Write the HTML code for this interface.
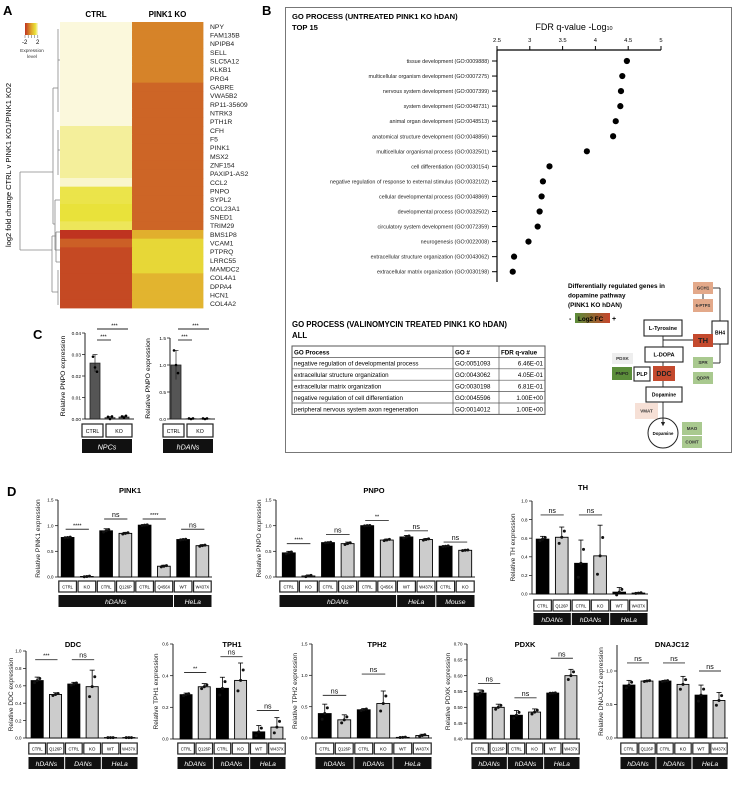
<!DOCTYPE html>
<html><head><meta charset="utf-8">
<style>
html,body{margin:0;padding:0;background:#fff;}
svg{display:block;font-family:"Liberation Sans",Arial,sans-serif;}
</style></head>
<body>
<svg id="fig" width="739" height="789" viewBox="0 0 739 789" xmlns="http://www.w3.org/2000/svg">
<rect x="0" y="0" width="739" height="789" fill="#fff"/>
<text x="3" y="15" font-size="13" font-weight="bold">A</text>
<text x="262" y="15" font-size="13" font-weight="bold">B</text>
<text x="33" y="339" font-size="13" font-weight="bold">C</text>
<text x="7" y="496" font-size="13" font-weight="bold">D</text>
<defs>
<linearGradient id="hmleg" x1="0" x2="1" y1="0" y2="0"><stop offset="0" stop-color="#bf3320"/><stop offset="0.5" stop-color="#e0a92c"/><stop offset="0.8" stop-color="#e9e23a"/><stop offset="1" stop-color="#fbf8dc"/></linearGradient>
<linearGradient id="fcleg" x1="0" x2="1" y1="0" y2="0"><stop offset="0" stop-color="#5b8d3a"/><stop offset="1" stop-color="#c6452b"/></linearGradient>
<marker id="arr" markerWidth="5" markerHeight="5" refX="2.5" refY="2.5" orient="auto"><path d="M0,0 L5,2.5 L0,5z" fill="#222"/></marker>
</defs>
</svg>
<script>
const NS='http://www.w3.org/2000/svg';
const svg=document.getElementById('fig');
function mk(tag,attrs,parent){const e=document.createElementNS(NS,tag);for(const k in attrs)e.setAttribute(k,attrs[k]);(parent||svg).appendChild(e);return e;}
function txt(x,y,s,attrs,parent){const e=mk('text',Object.assign({x:x,y:y},attrs||{}),parent);e.textContent=s;return e;}

/* ---------------- Panel A heatmap ---------------- */
const hmGenes=['NPY','FAM135B','NPIPB4','SELL','SLC5A12','KLKB1','PRG4','GABRE','VWA5B2','RP11-35609','NTRK3','PTH1R','CFH','F5','PINK1','MSX2','ZNF154','PAXIP1-AS2','CCL2','PNPO','SYPL2','COL23A1','SNED1','TRIM29','BMS1P8','VCAM1','PTPRQ','LRRC55','MAMDC2','COL4A1','DPPA4','HCN1','COL4A2'];
const hmCtrl=[2,2,2,2,2,2,2,2,2,2,2,2,1.6,1.6,1.6,1.6,1.6,1.6,1.9,1.1,1.1,1.0,1.0,1.2,-2,-1.2,-1.6,-1.6,-1.6,-1.6,-1.6,-1.6,-1.6];
const hmKo=[-0.6,-0.6,-0.6,-0.6,-0.6,-0.6,-0.6,-1.1,-1.1,-1.1,-1.1,-1.1,-1.1,-1.1,-1.1,-1.1,-1.1,-1.1,-1.1,-1.1,-1.1,-1.1,-1.1,-1.1,0.1,0.8,0.8,0.8,0.8,0.2,0.2,0.2,0.2];
const hmColumns=['CTRL','PINK1 KO'];
const stops=[[-2,[191,51,32]],[-1,[207,106,39]],[0,[224,169,44]],[1,[233,226,58]],[2,[251,248,220]]];
function hmColor(v){v=Math.max(-2,Math.min(2,v));for(let i=0;i<stops.length-1;i++){const a=stops[i],b=stops[i+1];if(v<=b[0]){const t=(v-a[0])/(b[0]-a[0]);const c=a[1].map((c0,k)=>Math.round(c0+(b[1][k]-c0)*t));return 'rgb('+c.join(',')+')';}}return 'rgb(251,248,220)';}
const hmTop=22,hmBot=308,hmX=[60,132,203];
const rowH=(hmBot-hmTop)/hmGenes.length;
hmColumns.forEach((c,j)=>{const t=txt((hmX[j]+hmX[j+1])/2,17,c,{'font-size':8,'font-weight':'bold','text-anchor':'middle'});

});
hmGenes.forEach((g,i)=>{
  [hmCtrl[i],hmKo[i]].forEach((v,j)=>{
    const r=mk('rect',{x:hmX[j],y:hmTop+i*rowH,width:hmX[j+1]-hmX[j]+0.4,height:rowH+0.4,fill:hmColor(v)});
    
    
  });
  const t=txt(210,hmTop+(i+0.5)*rowH+2.5,g,{'font-size':6.8,fill:'#222'});
  
  
});
// legend
const lg=mk('rect',{x:25,y:23,width:13,height:12,fill:'url(#hmleg)'});


for(let i=0;i<5;i++)mk('line',{x1:25+i*3.2,x2:25+i*3.2,y1:35,y2:38,stroke:'#555','stroke-width':0.5});
txt(22,44,'-2',{'font-size':6});txt(36,44,'2',{'font-size':6});
txt(32,52,'Expression',{'font-size':4.8,'text-anchor':'middle',fill:'#333'});
txt(32,58,'level',{'font-size':4.8,'text-anchor':'middle',fill:'#333'});
const yl=txt(0,0,'log2 fold change CTRL v PINK1 KO1/PINK1 KO2',{'font-size':7.5,'text-anchor':'middle',transform:'translate(11,165) rotate(-90)'});


// dendrogram
const dendro=[[20,172,20,250],[20,172,53,172],[20,250,52,250],[53,88,53,224],[53,88,58,88],[53,224,55,224],[55,200,55,250],[52,236,52,292],[52,236,56,236],[52,292,58,292],[56,232,56,262],[58,270,58,305],[58,29,58,112],[58,60,60,60],[58,130,58,175],[58,150,60,150],[55,200,60,200],[55,250,60,250],[56,232,60,232],[56,262,60,262]];
dendro.forEach(d=>{const l=mk('line',{x1:d[0],y1:d[1],x2:d[2],y2:d[3],stroke:'#888','stroke-width':0.8});});

/* ---------------- Panel B ---------------- */
const boxB=mk('rect',{x:285.5,y:7.5,width:446,height:445,fill:'none',stroke:'#777','stroke-width':1});


txt(292,19,'GO PROCESS (UNTREATED PINK1 KO hDAN)',{'font-size':7.6,'font-weight':'bold'});
txt(292,30,'TOP 15',{'font-size':7.6,'font-weight':'bold'});
const goTerms=['tissue development (GO:0009888)','multicellular organism development (GO:0007275)','nervous system development (GO:0007399)','system development (GO:0048731)','animal organ development (GO:0048513)','anatomical structure development (GO:0048856)','multicellular organismal process (GO:0032501)','cell differentiation (GO:0030154)','negative regulation of response to external stimulus (GO:0032102)','cellular developmental process (GO:0048869)','developmental process (GO:0032502)','circulatory system development (GO:0072359)','neurogenesis (GO:0022008)','extracellular structure organization (GO:0043062)','extracellular matrix organization (GO:0030198)'];
const goValues=[4.48,4.41,4.39,4.38,4.31,4.27,3.87,3.30,3.20,3.18,3.15,3.12,2.98,2.76,2.74];
const goTicks=[2.5,3,3.5,4,4.5,5];
const gxMin=2.5,gxMax=5,gx0=497,gx1=661;
const gx=v=>gx0+(v-gxMin)/(gxMax-gxMin)*(gx1-gx0);
const gy=i=>61+i*15.05;
const at=txt(574,30,'FDR q-value -Log',{'font-size':9,'text-anchor':'middle'});


const sub=mk('tspan',{'font-size':5.5},at);sub.textContent='10';
mk('line',{x1:gx0,x2:gx1,y1:50,y2:50,stroke:'#000','stroke-width':1.2});
mk('line',{x1:gx0,x2:gx0,y1:50,y2:282,stroke:'#000','stroke-width':1.2});
goTicks.forEach(t=>{mk('line',{x1:gx(t),x2:gx(t),y1:46,y2:50,stroke:'#000','stroke-width':1});
 const e=txt(gx(t),42,String(t),{'font-size':5.8,'text-anchor':'middle'});
 
 });
goTerms.forEach((g,i)=>{
 mk('line',{x1:gx0-5,x2:gx0,y1:gy(i),y2:gy(i),stroke:'#000','stroke-width':1});
 const e=txt(gx0-8,gy(i)+2,g,{'font-size':5.4,'text-anchor':'end',fill:'#222'});
 
 
 const c=mk('circle',{cx:gx(goValues[i]),cy:gy(i),r:3.1,fill:'#000'});
 
 
});
// table
txt(292,327,'GO PROCESS (VALINOMYCIN TREATED PINK1 KO hDAN)',{'font-size':7.8,'font-weight':'bold'});
txt(292,338,'ALL',{'font-size':7.8,'font-weight':'bold'});
const tblRows=[['GO Process','GO #','FDR q-value'],['negative regulation of developmental process','GO:0051093','6.46E-01'],['extracellular structure organization','GO:0043062','4.05E-01'],['extracellular matrix organization','GO:0030198','6.81E-01'],['negative regulation of cell differentiation','GO:0045596','1.00E+00'],['peripheral nervous system axon regeneration','GO:0014012','1.00E+00']];
const tg=mk('g',{});


const tx=[292,453,499,545],ty0=346,th=11.4;
mk('rect',{x:292,y:ty0,width:253,height:th*6,fill:'none',stroke:'#555','stroke-width':1},tg);
for(let r=1;r<6;r++)mk('line',{x1:292,x2:545,y1:ty0+r*th,y2:ty0+r*th,stroke:'#555','stroke-width':0.7},tg);
[453,499].forEach(x=>mk('line',{x1:x,x2:x,y1:ty0,y2:ty0+6*th,stroke:'#555','stroke-width':0.7},tg));
tblRows.forEach((row,r)=>{row.forEach((c,k)=>{
 const a={'font-size':6.2};if(r===0)a['font-weight']='bold';
 if(k===2&&r>0){a['text-anchor']='end';txt(543,ty0+r*th+8.3,c,a,tg);}else txt(tx[k]+2,ty0+r*th+8.3,c,a,tg);});});
// pathway
const pw=mk('g',{});


txt(568,288,'Differentially regulated genes in',{'font-size':6.4,'font-weight':'bold'},pw);
txt(568,297.5,'dopamine pathway',{'font-size':6.4,'font-weight':'bold'},pw);
txt(568,307,'(PINK1 KO hDAN)',{'font-size':6.4,'font-weight':'bold'},pw);
txt(569,321,'-',{'font-size':7,'font-weight':'bold'},pw);
mk('rect',{x:575,y:313,width:35,height:10,fill:'url(#fcleg)'},pw);
txt(578,321,'Log2 FC',{'font-size':6.3,'font-weight':'bold'},pw);
txt(612,321,'+',{'font-size':7,'font-weight':'bold'},pw);
const lines=[[663,336,663,387],[663,340,693,340],[703,294,703,299],[713,288,720,288],[720,288,720,321],[720,344,720,363],[720,363,713,363]];
lines.forEach(l=>mk('line',{x1:l[0],y1:l[1],x2:l[2],y2:l[3],stroke:'#222','stroke-width':0.9},pw));
mk('line',{x1:663,y1:402,x2:663,y2:424,stroke:'#222','stroke-width':0.9,'marker-end':'url(#arr)'},pw);
const nodes=[['GCH1',693,282,20,12,'#e3a98a','none',4.5,'#333'],['6-PTPS',693,299,20,13,'#e3a98a','none',4.2,'#333'],['BH4',712,321,16,23,'#fff','#222',5,'#000'],['L-Tyrosine',644,320,38,16,'#fff','#222',5.6,'#000'],['TH',693,334,20,13,'#c44a2e','none',7.5,'#222'],['L-DOPA',645,347,38,15,'#fff','#222',5.6,'#000'],['PDXK',612,353,21,11,'#eee','none',4.6,'#333'],['PNPO',612,367,20,13,'#5b8d3a','none',4.6,'#222'],['PLP',634,367,16,14,'#fff','#222',5.6,'#000'],['DDC',653,366,22,15,'#c44a2e','none',7,'#222'],['SPR',693,357,20,11,'#a9c98f','none',4.5,'#333'],['QDPR',693,372,20,12,'#a9c98f','none',4.5,'#333'],['Dopamine',646,387,36,15,'#fff','#222',5,'#000'],['VMAT',635,403,23,16,'#f6e0d6','none',4.5,'#333'],['MAO',682,422,20,13,'#a9c98f','none',4.5,'#333'],['COMT',682,436,20,12,'#a9c98f','none',4.5,'#333']];
nodes.forEach(n=>{mk('rect',{x:n[1],y:n[2],width:n[3],height:n[4],fill:n[5],stroke:n[6],'stroke-width':1.1},pw);
 txt(n[1]+n[3]/2,n[2]+n[4]/2+n[7]*0.36,n[0],{'font-size':n[7],'font-weight':'bold','text-anchor':'middle',fill:n[8]},pw);});
mk('circle',{cx:663,cy:433,r:15,fill:'none',stroke:'#222','stroke-width':1},pw);
txt(663,435,'Dopamine',{'font-size':4.3,'font-weight':'bold','text-anchor':'middle'},pw);

/* ---------------- Panel C ---------------- */
const cNpcMeans=[0.026,0.0006,0.0009];
const cNpcSd=[0.004,0.0005,0.0005];
const cNpcPts=[[0.029,0.024,0.022],[0.001,0.0,0.0012],[0.0012,0.0006,0.0015]];
const cNpcTicks=[0,0.01,0.02,0.03,0.04];
const cDanMeans=[1.0,0.005,0.005];
const cDanSd=[0.27,0.005,0.005];
const cDanPts=[[1.27,1.0,0.85],[0.01,0,0.01],[0.01,0,0.01]];
const cDanTicks=[0,0.5,1.0,1.5];
function drawC(name,ax,xs,y0,y1,max,means,sd,pts,ticks,fmt,ylabel,grp,sigY){
 const g=mk('g',{});
 
 
 const y=v=>y0-(v/max)*(y0-y1);
 mk('line',{x1:ax,x2:ax,y1:y1,y2:y0,stroke:'#222','stroke-width':1},g);
 mk('line',{x1:ax,x2:xs[2]+10,y1:y0,y2:y0,stroke:'#222','stroke-width':1},g);
 ticks.forEach(t=>{mk('line',{x1:ax-3,x2:ax,y1:y(t),y2:y(t),stroke:'#222','stroke-width':0.8},g);txt(ax-4,y(t)+1.8,fmt(t),{'font-size':4.8,'text-anchor':'end'},g);});
 xs.forEach((cx,i)=>{
  const b=mk('rect',{x:cx-5,y:y(means[i]),width:10,height:y0-y(means[i]),fill:'#555',stroke:'#222','stroke-width':0.8},g);
  
  
  mk('line',{x1:cx,x2:cx,y1:y(means[i]-sd[i]),y2:y(means[i]+sd[i]),stroke:'#222','stroke-width':0.7},g);
  mk('line',{x1:cx-2.5,x2:cx+2.5,y1:y(means[i]+sd[i]),y2:y(means[i]+sd[i]),stroke:'#222','stroke-width':0.7},g);
  pts[i].forEach((p,k)=>{const d=mk('circle',{cx:cx-2+k*2,cy:y(p),r:1.3,fill:'#000'},g);});
 });
 const yt=txt(0,0,ylabel,{'font-size':6.8,'text-anchor':'middle',transform:'translate('+(ax-20)+','+(y1+y0)/2+') rotate(-90)'},g);
 
 
 mk('rect',{x:xs[0]-13,y:424,width:21,height:13,fill:'#fff',stroke:'#222','stroke-width':1.2},g);
 txt(xs[0]-2.5,433,'CTRL',{'font-size':5.2,'text-anchor':'middle'},g);
 mk('rect',{x:xs[0]+11,y:424,width:26,height:13,fill:'#fff',stroke:'#222','stroke-width':1.2},g);
 txt(xs[0]+24,433,'KO',{'font-size':5.2,'text-anchor':'middle'},g);
 mk('rect',{x:xs[0]-13,y:439,width:50,height:14,fill:'#111'},g);
 txt(xs[0]+12,449.5,grp,{'font-size':7.2,'font-style':'italic','text-anchor':'middle',fill:'#fff'},g);
 mk('line',{x1:xs[0]+2,x2:xs[1]+1,y1:sigY[0],y2:sigY[0],stroke:'#222','stroke-width':0.9},g);
 txt((xs[0]+xs[1])/2+1,sigY[0]-1.5,'***',{'font-size':5.5,'text-anchor':'middle'},g);
 mk('line',{x1:xs[0]+2,x2:xs[2]+4,y1:sigY[1],y2:sigY[1],stroke:'#222','stroke-width':0.9},g);
 txt((xs[0]+xs[2])/2+5,sigY[1]-1.5,'***',{'font-size':5.5,'text-anchor':'middle'},g);
}
drawC('pnpo-npcs-chart',85,[95,110,124],419,333,0.04,cNpcMeans,cNpcSd,cNpcPts,cNpcTicks,t=>t.toFixed(2),'Relative PNPO expression','NPCs',[340,329]);
drawC('pnpo-hdans-chart',170,[176,191,205],419,338,1.5,cDanMeans,cDanSd,cDanPts,cDanTicks,t=>t.toFixed(1),'Relative PNPO expression','hDANs',[340,329]);

/* ---------------- Panel D bar charts ---------------- */
const pink1Means=[0.77,0.01,0.90,0.85,1.01,0.21,0.73,0.61];
const pink1Sd=[0.01,0.01,0.04,0.02,0.01,0.02,0.01,0.02];
const pink1Labels=['CTRL','KO','CTRL','Q126P','CTRL','Q456X','WT','W437X'];
const pink1Ticks=[0,0.5,1.0,1.5];
const pnpoMeans=[0.47,0.02,0.67,0.65,1.0,0.72,0.78,0.73,0.60,0.52];
const pnpoSd=[0.03,0.02,0.01,0.03,0.005,0.02,0.03,0.02,0.01,0.01];
const pnpoLabels=['CTRL','KO','CTRL','Q126P','CTRL','Q456X','WT','W437X','CTRL','KO'];
const pnpoTicks=[0,0.5,1.0,1.5];
const thMeans=[0.59,0.61,0.33,0.41,0.02,0.01];
const thSd=[0.03,0.11,0.25,0.33,0.05,0.005];
const thTicks=[0,0.2,0.4,0.6,0.8,1.0];
const ddcMeans=[0.66,0.50,0.62,0.59,0.005,0.005];
const ddcSd=[0.04,0.02,0.02,0.19,0,0];
const ddcTicks=[0,0.2,0.4,0.6,0.8,1.0];
const tph1Means=[0.28,0.33,0.32,0.37,0.045,0.075];
const tph1Sd=[0.01,0.02,0.07,0.11,0.04,0.06];
const tph1Ticks=[0,0.2,0.4,0.6];
const tph2Means=[0.39,0.29,0.45,0.55,0.01,0.04];
const tph2Sd=[0.15,0.08,0.02,0.20,0.005,0.02];
const tph2Ticks=[0,0.5,1.0,1.5];
const pdxkMeans=[0.545,0.50,0.475,0.485,0.545,0.60];
const pdxkSd=[0.01,0.01,0.015,0.01,0.001,0.02];
const pdxkTicks=[0.4,0.45,0.5,0.55,0.6,0.65,0.7];
const dnajMeans=[0.79,0.85,0.85,0.80,0.64,0.56];
const dnajSd=[0.07,0.01,0.01,0.12,0.15,0.12];
const dnajTicks=[0,0.5,1.0];
const stdLabels=['CTRL','Q126P','CTRL','KO','WT','W437X'];
function drawBars(c,means,sd,labels,ticks,groups,sigs){
 const g=mk('g',{});
 
 
 const y=v=>c.y0-(v-c.min)/(c.max-c.min)*(c.y0-c.y1);
 const slot=(c.x1-c.x0)/means.length;
 const cx=i=>c.x0+slot*(i+0.5);
 const tt=txt(c.tx,c.ty,c.title,{'font-size':7.5,'font-weight':'bold','text-anchor':'middle'},g);
 
 
 const top=c.axTop!==undefined?c.axTop:c.y1;
 mk('line',{x1:c.ax,x2:c.ax,y1:top,y2:c.y0,stroke:'#222','stroke-width':1},g);
 mk('line',{x1:c.ax,x2:c.x1,y1:c.y0,y2:c.y0,stroke:'#222','stroke-width':1},g);
 ticks.forEach(t=>{mk('line',{x1:c.ax-3,x2:c.ax,y1:y(t),y2:y(t),stroke:'#222','stroke-width':0.8},g);
  const e=txt(c.ax-4.5,y(t)+1.7,c.fmt(t),{'font-size':4.5,'text-anchor':'end'},g);
  
  });
 const yt=txt(0,0,c.ylabel,{'font-size':6.6,'text-anchor':'middle',transform:'translate('+c.ylx+','+(top+c.y0)/2+') rotate(-90)',fill:'#222'},g);
 
 
 const bw=slot*0.66;
 means.forEach((m,i)=>{
  const b=mk('rect',{x:cx(i)-bw/2,y:y(m),width:bw,height:Math.max(0.5,c.y0-y(m)),fill:i%2?'#ccc':'#000',stroke:'#000','stroke-width':0.9},g);
  
  
  const e1=y(m+sd[i]);
  mk('line',{x1:cx(i),x2:cx(i),y1:y(m),y2:e1,stroke:'#000','stroke-width':0.8},g);
  mk('line',{x1:cx(i)-2.5,x2:cx(i)+2.5,y1:e1,y2:e1,stroke:'#000','stroke-width':0.8},g);
  [-1,0,1].forEach(k=>{const d=mk('circle',{cx:cx(i)+k*2.6,cy:y(m+k*sd[i]*0.6),r:1.5,fill:'#111'},g);
   
   });
  const lb=mk('rect',{x:cx(i)-slot/2+0.8,y:c.ly,width:slot-1.6,height:11,fill:'#fff',stroke:'#222','stroke-width':1.2},g);
  
  
  txt(cx(i),c.ly+7.5,labels[i],{'font-size':labels[i].length>3?4.1:4.6,'text-anchor':'middle'},g);
 });
 let s=0;
 groups.forEach(gr=>{
  const gx1=c.x0+slot*s+0.5,gw=slot*gr[1]-1;
  const r=mk('rect',{x:gx1,y:c.gy,width:gw,height:12,fill:'#111'},g);
  
  
  txt(gx1+gw/2,c.gy+9,gr[0],{'font-size':6.8,'font-style':'italic','text-anchor':'middle',fill:'#fff'},g);
  s+=gr[1];
 });
 sigs.forEach(sg=>{
  const yy=y(sg[2]);
  mk('line',{x1:cx(sg[0])-2,x2:cx(sg[1])+2,y1:yy,y2:yy,stroke:'#333','stroke-width':0.9},g);
  const e=txt((cx(sg[0])+cx(sg[1]))/2,yy-2,sg[3],{'font-size':sg[3]==='ns'?7:5.5,'text-anchor':'middle'},g);
  
  
 });
}
const f1=t=>t.toFixed(1),f2=t=>t.toFixed(2);
drawBars({name:'pink1-chart',title:'PINK1',tx:130,ty:493,ax:58,x0:58,x1:212,y0:577,y1:500,min:0,max:1.5,fmt:f1,ylabel:'Relative PINK1 expression',ylx:40,ly:581,gy:595},pink1Means,pink1Sd,pink1Labels,pink1Ticks,[['hDANs',6],['HeLa',2]],[[0,1,0.93,'****'],[2,3,1.13,'ns'],[4,5,1.13,'****'],[6,7,0.93,'ns']]);
drawBars({name:'pnpo-chart',title:'PNPO',tx:374,ty:493,ax:276,x0:279,x1:475,y0:577,y1:500,min:0,max:1.5,fmt:f1,ylabel:'Relative PNPO expression',ylx:261,ly:581,gy:595},pnpoMeans,pnpoSd,pnpoLabels,pnpoTicks,[['hDANs',6],['HeLa',2],['Mouse',2]],[[0,1,0.65,'****'],[2,3,0.83,'ns'],[4,5,1.1,'**'],[6,7,0.9,'ns'],[8,9,0.68,'ns']]);
drawBars({name:'th-chart',title:'TH',tx:583,ty:490,ax:532,x0:533,x1:648,y0:594,y1:501,min:0,max:1.0,fmt:f1,ylabel:'Relative TH expression',ylx:515,ly:600,gy:613},thMeans,thSd,stdLabels,thTicks,[['hDANs',2],['hDANs',2],['HeLa',2]],[[0,1,0.85,'ns'],[2,3,0.85,'ns']]);
drawBars({name:'ddc-chart',title:'DDC',tx:73,ty:647,ax:26,x0:28,x1:138,y0:738,y1:651,min:0,max:1.0,fmt:f1,ylabel:'Relative DDC expression',ylx:13,ly:743,gy:757},ddcMeans,ddcSd,stdLabels,ddcTicks,[['hDANs',2],['DANs',2],['HeLa',2]],[[0,1,0.9,'***'],[2,3,0.9,'ns']]);
drawBars({name:'tph1-chart',title:'TPH1',tx:232,ty:647,ax:173,x0:177,x1:286,y0:739,y1:644,min:0,max:0.6,fmt:f1,ylabel:'Relative TPH1 expression',ylx:158,ly:743,gy:757},tph1Means,tph1Sd,stdLabels,tph1Ticks,[['hDANs',2],['hDANs',2],['HeLa',2]],[[0,1,0.42,'**'],[2,3,0.52,'ns'],[4,5,0.18,'ns']]);
drawBars({name:'tph2-chart',title:'TPH2',tx:377,ty:647,ax:312,x0:315,x1:432,y0:738,y1:644,min:0,max:1.5,fmt:f1,ylabel:'Relative TPH2 expression',ylx:297,ly:743,gy:757},tph2Means,tph2Sd,stdLabels,tph2Ticks,[['hDANs',2],['hDANs',2],['HeLa',2]],[[0,1,0.68,'ns'],[2,3,1.02,'ns']]);
drawBars({name:'pdxk-chart',title:'PDXK',tx:525,ty:647,ax:467,x0:471,x1:580,y0:739,y1:644,min:0.4,max:0.7,fmt:f2,ylabel:'Relative PDXK expression',ylx:450,ly:743,gy:757},pdxkMeans,pdxkSd,stdLabels,pdxkTicks,[['hDANs',2],['hDANs',2],['HeLa',2]],[[0,1,0.575,'ns'],[2,3,0.53,'ns'],[4,5,0.655,'ns']]);
drawBars({name:'dnajc12-chart',title:'DNAJC12',tx:672,ty:647,ax:617,x0:620,x1:728,y0:738,y1:671,axTop:645,min:0,max:1.0,fmt:f1,ylabel:'Relative DNAJC12 expression',ylx:603,ly:743,gy:757},dnajMeans,dnajSd,stdLabels,dnajTicks,[['hDANs',2],['hDANs',2],['HeLa',2]],[[0,1,1.12,'ns'],[2,3,1.12,'ns'],[4,5,1.0,'ns']]);
</script>
</body></html>
